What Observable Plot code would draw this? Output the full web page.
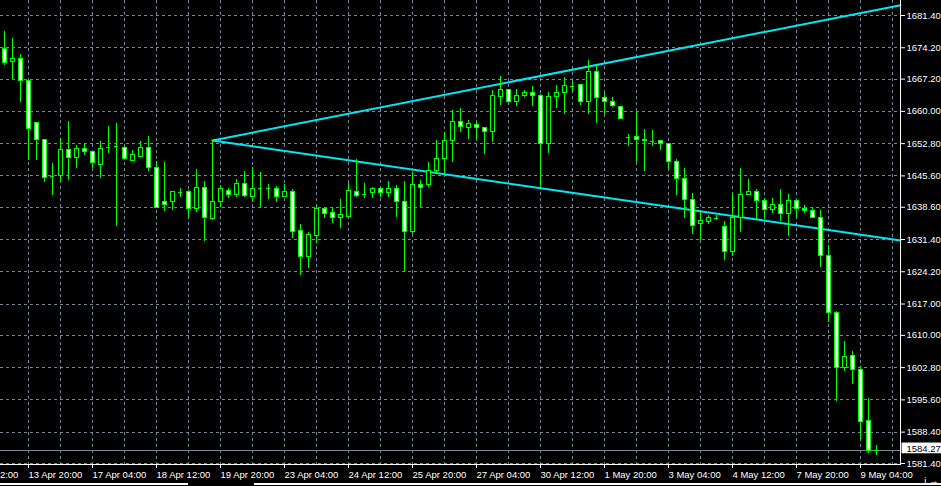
<!DOCTYPE html>
<html><head><meta charset="utf-8">
<script src="https://cdn.jsdelivr.net/npm/d3@7"></script>
<script src="https://cdn.jsdelivr.net/npm/@observablehq/plot@0.6"></script>
<style>html,body{margin:0;padding:0;background:#000;overflow:hidden}</style>
</head><body><div id="chart"></div>
<script>
// H4 candles, 12 Apr 2012 -> 9 May 2012 (one entry per bar, left to right)
const opens = [1674.0,1671.1,1671.6,1666.7,1657.5,1653.5,1645.2,1645.5,1651.3,1649.5,
1651.7,1651.0,1648.1,1651.7,1652.2,1651.9,1649.0,1649.9,1651.9,1647.3,
1639.7,1639.7,1641.9,1641.9,1638.1,1643.0,1635.9,1639.7,1642.3,1641.4,
1643.9,1640.8,1642.8,1642.8,1642.6,1640.8,1642.1,1633.2,1627.6,1632.1,
1638.3,1637.4,1636.3,1636.5,1642.1,1641.4,1641.7,1642.6,1641.7,1642.6,
1639.7,1633.0,1643.5,1643.5,1646.6,1649.3,1653.3,1657.7,1656.2,1656.9,
1656.2,1655.3,1663.3,1664.7,1662.2,1663.5,1664.2,1663.5,1652.8,1663.1,
1664.0,1665.6,1665.8,1662.0,1668.9,1662.9,1662.2,1660.9,1654.2,1654.2,
1653.7,1653.3,1653.3,1652.8,1648.6,1645.0,1640.3,1634.8,1635.4,1636.1,
1634.3,1628.7,1636.1,1641.4,1642.1,1640.1,1637.9,1639.0,1637.2,1639.9,
1638.1,1637.7,1636.3,1627.8,1615.1,1602.8,1605.3,1602.2,1590.8,1584.3];
const highs = [1677.8,1676.3,1672.7,1666.7,1657.5,1653.7,1648.4,1653.9,1657.7,1652.4,
1652.6,1651.0,1653.3,1656.6,1657.3,1652.2,1651.3,1653.3,1654.4,1648.8,
1648.6,1641.9,1642.8,1642.3,1647.0,1644.4,1653.5,1643.5,1642.8,1644.8,
1646.6,1647.5,1646.4,1643.7,1643.2,1643.7,1642.6,1634.8,1633.0,1639.0,
1638.3,1638.5,1640.3,1643.9,1649.3,1643.9,1643.0,1643.0,1644.4,1643.5,
1644.4,1646.4,1644.6,1648.6,1653.5,1655.3,1660.2,1660.6,1658.0,1657.5,
1656.4,1664.7,1667.8,1664.7,1664.9,1664.7,1665.6,1663.8,1664.2,1665.8,
1667.6,1666.7,1666.0,1671.4,1670.0,1664.0,1663.1,1660.9,1654.8,1659.8,
1656.0,1655.7,1653.5,1652.8,1649.3,1647.3,1641.7,1637.4,1636.8,1636.8,
1635.4,1641.4,1647.3,1644.8,1642.6,1640.6,1640.6,1642.6,1641.4,1639.9,
1639.0,1638.3,1637.9,1630.1,1615.3,1608.6,1606.4,1603.1,1595.9,1585.4];
const lows = [1670.2,1667.1,1662.0,1649.0,1649.0,1644.1,1641.2,1644.3,1644.6,1647.2,
1650.2,1647.2,1645.0,1650.6,1634.3,1649.0,1649.0,1649.7,1646.6,1638.3,
1637.7,1637.9,1640.8,1636.3,1637.4,1631.0,1635.6,1638.5,1640.6,1640.8,
1640.8,1639.7,1638.5,1640.3,1639.7,1640.8,1631.6,1623.4,1624.9,1630.5,
1636.1,1635.0,1633.9,1636.5,1640.8,1640.6,1640.6,1640.8,1640.8,1636.3,
1624.3,1632.5,1638.5,1643.0,1646.1,1646.1,1648.6,1655.3,1653.7,1653.7,
1650.4,1653.1,1661.3,1661.8,1661.1,1663.1,1661.1,1643.0,1650.6,1660.6,
1659.3,1664.4,1661.3,1659.3,1657.3,1659.3,1660.9,1658.2,1652.2,1648.6,
1646.6,1652.2,1651.3,1647.0,1641.2,1636.1,1632.5,1631.2,1634.8,1635.6,
1626.7,1627.6,1633.0,1641.4,1635.9,1635.9,1637.2,1635.4,1632.1,1636.1,
1637.2,1636.1,1625.2,1612.9,1595.2,1601.9,1599.0,1586.8,1583.6,1583.2];
const closes = [1670.9,1671.8,1666.7,1656.0,1653.5,1645.2,1645.5,1651.3,1649.5,1651.7,
1651.0,1648.4,1651.7,1651.9,1652.2,1649.3,1650.2,1651.9,1647.3,1638.5,
1639.0,1641.9,1641.9,1638.1,1642.8,1636.1,1639.7,1642.6,1641.4,1643.7,
1641.2,1642.6,1642.8,1642.8,1640.8,1642.1,1633.0,1627.6,1632.3,1638.1,
1637.2,1636.1,1636.8,1642.3,1641.2,1641.4,1642.6,1641.7,1642.6,1639.7,
1633.0,1643.5,1643.0,1646.8,1649.3,1653.3,1657.7,1656.6,1657.1,1656.2,
1655.3,1663.5,1664.7,1662.2,1663.5,1664.2,1663.5,1652.8,1663.1,1664.0,
1665.6,1665.6,1662.0,1668.9,1662.9,1662.2,1661.1,1658.2,1654.2,1653.7,
1653.3,1653.3,1652.8,1648.6,1645.0,1640.3,1634.5,1635.6,1636.3,1636.1,
1628.5,1636.1,1641.4,1642.1,1640.1,1637.9,1639.0,1637.2,1639.9,1638.1,
1637.7,1636.3,1627.8,1615.1,1602.8,1605.1,1602.2,1590.6,1584.1,1584.27];

// time axis labels (bar index of each label)
const tickIndex = [-5,3,11,19,27,35,43,51,59,67,75,83,91,99,107];
const timeLabels = ["12 Apr 12:00","13 Apr 20:00","17 Apr 04:00","18 Apr 12:00","19 Apr 20:00",
  "23 Apr 04:00","24 Apr 12:00","25 Apr 20:00","27 Apr 04:00","30 Apr 12:00","1 May 20:00",
  "3 May 04:00","4 May 12:00","7 May 20:00","9 May 04:00"];
// price axis labels
const priceTicks = [1681.40,1674.20,1667.20,1660.00,1652.80,1645.60,1638.60,1631.40,1624.20,
  1617.00,1610.00,1602.80,1595.60,1588.40,1581.40];
// trend lines (bar index, price)
const trendIdx = [26, 112];
const upperPrices = [1653.5, 1683.7];
const lowerPrices = [1653.5, 1631.2];

const candles = opens.map((o, i) => ({i, open: o, high: highs[i], low: lows[i], close: closes[i]}));
const isDoji = d => Math.abs(d.close - d.open) < 0.3;
const upper = trendIdx.map((i, j) => ({i, p: upperPrices[j]}));
const lower = trendIdx.map((i, j) => ({i, p: lowerPrices[j]}));
const labelOf = new Map(tickIndex.map((t, j) => [t, timeLabels[j]]));
const gridIndex = d3.range(-1, 112, 4);
const lastClose = closes[closes.length - 1];

const GRID = "#778899", GREEN = "#00ff00", CYAN = "#00e8f4";

const chart = Plot.plot({
  width: 941, height: 486,
  marginLeft: 0, marginRight: 41, marginTop: 0, marginBottom: 22,
  style: {background: "#000", color: "#fff", fontFamily: "'Liberation Sans', Arial, sans-serif", fontSize: "9.5px", overflow: "hidden"},
  x: {type: "linear", domain: [-0.5, 112], range: [0, 900]},
  y: {type: "linear", domain: [1581.4, 1681.4], range: [463, 15]},
  marks: [
    Plot.ruleX(gridIndex, {stroke: GRID, strokeDasharray: "3,3", shapeRendering: "crispEdges"}),
    Plot.ruleY(priceTicks, {stroke: GRID, strokeDasharray: "3,3", shapeRendering: "crispEdges"}),
    Plot.ruleY([lastClose], {stroke: GRID, shapeRendering: "crispEdges"}),
    Plot.line(upper, {x: "i", y: "p", stroke: CYAN, strokeWidth: 2}),
    Plot.line(lower, {x: "i", y: "p", stroke: CYAN, strokeWidth: 2}),
    Plot.ruleX(candles, {x: "i", y1: "low", y2: "high", stroke: GREEN, shapeRendering: "crispEdges"}),
    Plot.rect(candles.filter(d => !isDoji(d)), {
      x1: d => d.i - 0.25, x2: d => d.i + 0.25, y1: "open", y2: "close",
      fill: d => d.close < d.open ? "#ffffff" : "#000000", stroke: GREEN, shapeRendering: "crispEdges"}),
    Plot.ruleY(candles.filter(isDoji), {y: "close", x1: d => d.i - 0.25, x2: d => d.i + 0.25, stroke: GREEN, shapeRendering: "crispEdges"}),
    Plot.ruleX([112], {stroke: "#fff", shapeRendering: "crispEdges"}),
    Plot.axisY(priceTicks, {anchor: "right", tickSize: 4, tickPadding: 2, tickFormat: d => d.toFixed(2)}),
    Plot.axisX(tickIndex, {anchor: "bottom", tickSize: 4, tickPadding: 3, textAnchor: "start", tickFormat: d => labelOf.get(d)}),
    Plot.rect([lastClose], {x1: () => 112.2, x2: () => 118, y1: d => d + 1.7, y2: d => d - 0.7, fill: "#fff"}),
    Plot.text([lastClose], {x: () => 112, y: d => d, text: d => d.toFixed(2), dx: 6, dy: -2, textAnchor: "start", fill: "#000"})
  ]
});
document.getElementById("chart").appendChild(chart);

// window chrome: bottom axis line and lower border
const svg = d3.select(chart);
svg.append("rect").attr("x", 0).attr("y", 464).attr("width", 901).attr("height", 1).attr("fill", "#fff");
svg.append("rect").attr("x", 0).attr("y", 483).attr("width", 188).attr("height", 2).attr("fill", "#fff");
svg.append("rect").attr("x", 254).attr("y", 483).attr("width", 687).attr("height", 2).attr("fill", "#fff");
</script>
</body></html>
